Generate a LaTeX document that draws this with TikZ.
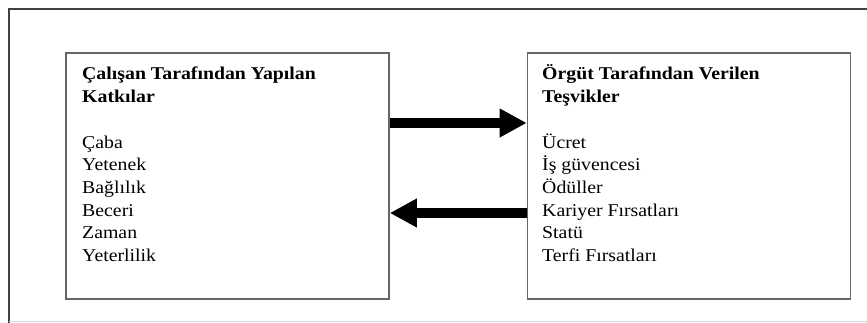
\documentclass[tikz,border=0pt]{standalone}
\usepackage{fontspec}
\setmainfont{Liberation Serif}[FakeStretch=1.1]
\usetikzlibrary{arrows.meta}
\begin{document}
\begin{tikzpicture}[x=1pt,y=-1pt,
  box/.style={draw=black!60, line width=1.6pt, minimum width=323pt, minimum height=246pt, inner sep=0pt},
  txt/.style={anchor=base west, inner sep=0pt, font=\fontsize{18}{22}\selectfont},
  bigarrow/.style={line width=10pt, -{Triangle[length=27pt,width=27pt]}}]
\useasboundingbox (0,0) rectangle (867,323);
\fill[white] (0,0) rectangle (867,323);
% outer frame
\draw[black!75, line width=2.2pt] (9,330) -- (9,9) -- (875,9);
\draw[black!15, line width=1.2pt] (9,321.5) -- (875,321.5);
% boxes
\node[box] (L) at (227.5,176) {};
\node[box] (R) at (689,176) {};
% left texts
\foreach \t [count=\i from 0] in {{\textbf{Çalışan Tarafından Yapılan}},{\textbf{Katkılar}},{},Çaba,Yetenek,Bağlılık,Beceri,Zaman,Yeterlilik}
  \node[txt] (Lt\i) at (82,80+22.7*\i) {\t};
% right texts
\foreach \t [count=\i from 0] in {{\textbf{Örgüt Tarafından Verilen}},{\textbf{Teşvikler}},{},Ücret,İş güvencesi,Ödüller,Kariyer Fırsatları,Statü,Terfi Fırsatları}
  \node[txt] (Rt\i) at (542,80+22.7*\i) {\t};
% arrows
\draw[bigarrow] ([yshift=53pt]L.east) -- ([yshift=53pt]R.west);
\draw[bigarrow] ([yshift=-37pt]R.west) -- ([yshift=-37pt]L.east);
\end{tikzpicture}
\end{document}
